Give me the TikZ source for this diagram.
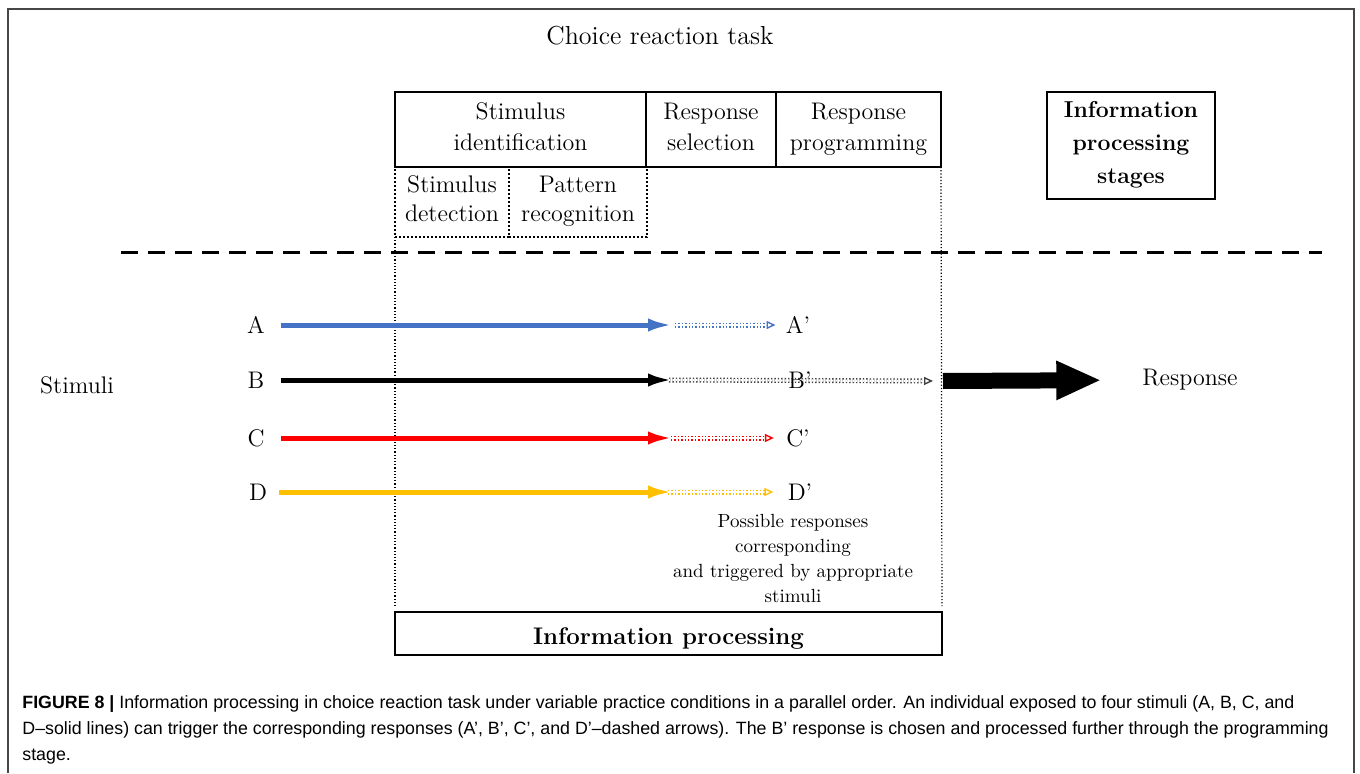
\documentclass[tikz,border=0pt]{standalone}
\usepackage{fontspec}
\newfontfamily\capfont{Liberation Sans}
\usetikzlibrary{positioning, arrows.meta}

\begin{document}
\begin{tikzpicture}[
        >=Latex,
        % one unit is one pixel of the reference
        x=0.5pt, y=-0.5pt,
        node distance=0pt,
        font=\fontsize{12}{15.5}\selectfont
    ]
        % Define custom colors
        \definecolor{stimblue}{RGB}{68,114,196}
        \definecolor{stimred}{RGB}{255,0,0}
        \definecolor{stimyellow}{RGB}{255,192,0}
        \definecolor{framegray}{RGB}{70,70,70}

        % Define node styles
        \tikzstyle{stage}=[
            draw,
            line width=1pt,
            inner sep=1pt,
            outer sep=0pt,
            align=center,
            minimum height=37.5pt,
            anchor=north west,
            execute at begin node={\rule{0pt}{14pt}},
            execute at end node={\rule[-3pt]{0pt}{3pt}}
        ]
        \tikzstyle{substage}=[stage, densely dotted, line width=0.6pt, minimum height=35pt, font=\fontsize{12}{14.5}\selectfont]
        \tikzstyle{letter}=[inner sep=1pt]
        \tikzstyle{stimarrow}=[-{Latex[length=13pt,width=6.5pt]}, line width=2.5pt, shorten >=-3pt]
        \tikzstyle{resparrow}=[-{Triangle[open,length=4.5pt,width=4pt]}, densely dotted, line width=0.7pt, double, double distance=1.1pt]
        \tikzstyle{guide}=[densely dotted, line width=0.6pt]

        \useasboundingbox (0,0) rectangle (1360,773);

        % --- Page frame ---
        \draw[framegray, line width=1pt] (8,773) -- (8,9) -- (1354,9) -- (1354,773);

        \node (title) at (660,36) {\fontsize{13}{16}\selectfont Choice reaction task};

        % --- Stage boxes ---
        \node[stage, minimum width=125.5pt] (sid) at (395,92) {Stimulus\\identification};
        \node[stage, minimum width=65pt, right=of sid] (rsel) {Response\\selection};
        \node[stage, minimum width=82.5pt, right=of rsel] (rprog) {Response\\programming};
        \node[substage, minimum width=57pt] (sdet) at (395,167) {Stimulus\\detection};
        \node[substage, minimum width=69pt, right=of sdet] (prec) {Pattern\\recognition};

        \node[stage, minimum width=84pt, minimum height=53.5pt, font=\bfseries\fontsize{11.5}{16.7}\selectfont] (stages) at (1047,92) {Information\\processing\\stages};
        \node[stage, minimum width=273.5pt, minimum height=21.5pt, font=\bfseries\fontsize{12}{15}\selectfont] (info) at (395,612) {Information processing};

        \draw[guide, shorten >=3pt] (sdet.south west) -- (info.north west);
        \draw[guide, shorten >=3pt] (rprog.south east) -- (info.north east);

        % --- Separator ---
        \draw[line width=1.5pt, dash pattern=on 8.5pt off 5pt] (121,252) -- (1322,252);

        % --- Stimuli ---
        \node (stimuli) at (77,385) {Stimuli};
        \node[letter] (A) at (256,325) {A};
        \node[letter] (B) at (256,380) {B};
        \node[letter] (C) at (256,438) {C};
        \node[letter] (D) at (258,492) {D};

        \coordinate (Asel) at (668,325);
        \coordinate (Bsel) at (668,380);
        \coordinate (Csel) at (668,438);
        \coordinate (Dsel) at (668,492);
        \coordinate (Bprog) at (941,381);

        \draw[stimarrow, stimblue, shorten <=7pt] (A.east) -- (Asel);
        \draw[stimarrow, black, shorten <=7pt] (B.east) -- (Bsel);
        \draw[stimarrow, stimred, shorten <=7pt] (C.east) -- (Csel);
        \draw[stimarrow, stimyellow, shorten <=5pt] (D.east) -- (Dsel);

        % --- Possible responses ---
        \node[letter] (Ap) at (798,325) {A’};
        \node[letter] (Cp) at (798,438) {C’};
        \node[letter] (Dp) at (800,492) {D’};

        \draw[resparrow, stimblue, shorten <=3.5pt, shorten >=4pt] (Asel) -- (Ap.west);
        \draw[resparrow, black!75, shorten <=0.5pt, shorten >=4pt] (Bsel) -- (Bprog);
        \draw[resparrow, stimred, shorten <=1.5pt, shorten >=5pt] (Csel) -- (Cp.west);
        \draw[resparrow, stimyellow, shorten <=0pt, shorten >=6pt] (Dsel) -- (Dp.west);

        \node[letter] (Bp) at (800,380) {B’};

        \node[align=center, font=\fontsize{9.5}{12.5}\selectfont] (note) at (793,558)
            {Possible responses\\corresponding\\and triggered by appropriate\\stimuli};

        % --- Chosen response ---
        \node (resp) at (1190,380) {Response};
        \draw[-{Triangle[length=22.5pt,width=18pt]}, line width=8pt, shorten <=1pt, shorten >=17pt] (Bprog) -- (resp.west);

        % --- Caption ---
        \node[anchor=north west, inner sep=0pt, align=left, font=\capfont\fontsize{8.9}{13}\selectfont] (caption) at (22,695)
            {\textbf{FIGURE 8 |} Information processing in choice reaction task under variable practice conditions in a parallel order. An individual exposed to four stimuli (A, B, C, and\\
             D–solid lines) can trigger the corresponding responses (A’, B’, C’, and D’–dashed arrows). The B’ response is chosen and processed further through the programming\\
             stage.};
    \end{tikzpicture}
\end{document}
